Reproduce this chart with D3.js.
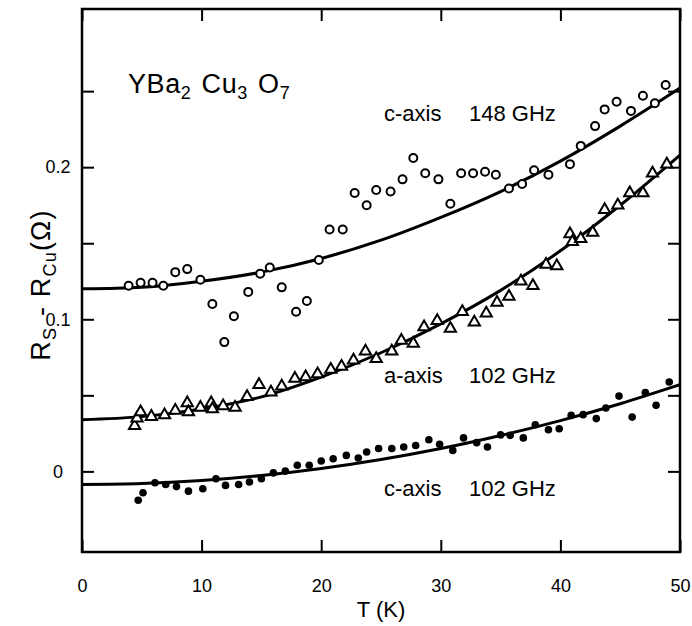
<!DOCTYPE html>
<html>
<head>
<meta charset="utf-8">
<title>YBa2Cu3O7 surface resistance</title>
<script src="https://cdn.jsdelivr.net/npm/d3@7"></script>
<style>
  body { margin: 0; background: #fff; }
  svg { font-family: "Liberation Sans", Arial, Helvetica, sans-serif; }
  .domain { display: none; }
</style>
</head>
<body>
<svg width="692" height="626" id="mainsvg"></svg>
<script>
// c-axis 148 GHz (open circles)
const c148T = [3.9, 4.9, 5.9, 6.8, 7.8, 8.8, 9.9, 10.9, 11.9, 12.7, 13.9, 14.9, 15.7, 16.7, 17.9, 18.8, 19.8,
               20.7, 21.8, 22.8, 23.8, 24.6, 25.8, 26.8, 27.7, 28.7, 29.8, 30.8, 31.7, 32.7, 33.7, 34.6,
               35.7, 36.8, 37.8, 39.0, 40.8, 41.7, 42.9, 43.7, 44.7, 45.9, 46.9, 47.9, 48.8]
const c148R = [0.122, 0.124, 0.124, 0.122, 0.131, 0.133, 0.126, 0.110, 0.085, 0.102, 0.118, 0.130, 0.134, 0.121, 0.105, 0.112, 0.139,
               0.159, 0.159, 0.183, 0.175, 0.185, 0.184, 0.192, 0.206, 0.196, 0.192, 0.176, 0.196, 0.196, 0.197, 0.195,
               0.186, 0.189, 0.198, 0.195, 0.202, 0.214, 0.227, 0.238, 0.243, 0.237, 0.247, 0.242, 0.254]

// a-axis 102 GHz (open triangles)
const a102T = [4.4, 4.6, 4.9, 5.8, 6.9, 7.8, 8.8, 8.9, 9.9, 10.8, 10.9, 11.8, 12.8, 13.8, 14.8, 15.8, 16.7, 17.8, 18.7, 19.7,
               20.8, 21.7, 22.7, 23.7, 24.6, 25.9, 26.7, 27.7, 28.6, 29.7, 30.8, 31.8, 32.8, 33.8, 34.7, 35.7, 36.7, 37.7,
               38.8, 39.7, 40.8, 41.0, 41.7, 42.7, 43.7, 44.8, 45.8, 46.9, 47.7, 48.9]
const a102R = [0.030, 0.035, 0.039, 0.036, 0.037, 0.040, 0.045, 0.039, 0.042, 0.045, 0.041, 0.043, 0.042, 0.049, 0.057, 0.052, 0.056, 0.061, 0.062, 0.064,
               0.067, 0.069, 0.073, 0.079, 0.074, 0.079, 0.086, 0.084, 0.095, 0.099, 0.094, 0.105, 0.098, 0.104, 0.111, 0.115, 0.125, 0.122,
               0.136, 0.135, 0.156, 0.151, 0.153, 0.157, 0.172, 0.175, 0.183, 0.183, 0.196, 0.202]

// c-axis 102 GHz (filled circles)
const c102T = [4.7, 5.1, 6.1, 7.0, 7.9, 8.9, 10.1, 11.2, 12.0, 13.1, 14.0, 15.0, 16.0, 17.0, 18.0, 19.0, 20.0, 21.0, 22.1, 23.1,
               23.8, 24.8, 25.9, 26.9, 27.9, 29.0, 29.9, 31.0, 31.9, 33.0, 33.9, 35.0, 35.8, 36.9, 37.9, 39.0, 39.9, 40.9,
               41.9, 43.0, 43.8, 44.9, 46.0, 47.1, 48.0, 49.1]
const c102R = [-0.019, -0.014, -0.0075, -0.0086, -0.010, -0.013, -0.0114, -0.0048, -0.0092, -0.0086, -0.007, -0.0048, -0.001, 0.0002, 0.004, 0.004, 0.0068, 0.0083, 0.0105, 0.0088,
               0.0127, 0.015, 0.015, 0.016, 0.017, 0.0208, 0.0178, 0.0138, 0.022, 0.0189, 0.016, 0.024, 0.0237, 0.022, 0.0307, 0.0274, 0.028, 0.0368,
               0.0373, 0.0347, 0.0417, 0.0495, 0.0357, 0.0518, 0.0434, 0.0588]

// fitted curves
const fitT    = [0, 5, 10, 15, 20, 25, 30, 35, 40, 45, 50]
const fitC148 = [0.120, 0.121, 0.125, 0.131, 0.140, 0.152, 0.167, 0.184, 0.204, 0.227, 0.252]
const fitA102 = [0.034, 0.036, 0.041, 0.049, 0.062, 0.078, 0.097, 0.119, 0.145, 0.175, 0.208]
const fitC102 = [-0.0086, -0.008, -0.006, -0.0027, 0.0019, 0.0078, 0.015, 0.0236, 0.0334, 0.0445, 0.057]

const xTicks = [0, 10, 20, 30, 40, 50]
const yTicks = [0, 0.05, 0.1, 0.15, 0.2, 0.25]
const yLabels = [0, 0.1, 0.2]

const svg = d3.select('#mainsvg')
const margin = {top: 9, right: 12, bottom: 74, left: 82}
const width = +svg.attr('width')
const height = +svg.attr('height')
const innerWidth = width - margin.left - margin.right
const innerHeight = height - margin.top - margin.bottom

const x = d3.scaleLinear().domain([0, 50]).range([0, innerWidth])
const y = d3.scaleLinear().domain([-0.053, 0.304]).range([innerHeight, 0])

const g = svg.append('g').attr('transform', `translate(${margin.left}, ${margin.top})`)

// axes, ticks pointing inward
const tickLen = 12
const styleAxis = sel => {
  sel.selectAll('.tick line').attr('stroke', '#000').attr('stroke-width', 2)
  sel.selectAll('.tick text').attr('fill', '#000').attr('font-size', 18)
  // drop the empty labels
  sel.selectAll('.tick text').filter(function () { return this.textContent === '' }).remove()
}
g.append('g').attr('transform', `translate(0, ${innerHeight})`)
  .call(d3.axisBottom(x).tickValues(xTicks).tickSizeInner(-tickLen).tickSizeOuter(0).tickFormat(d3.format('d')))
  .call(styleAxis)
  .call(a => a.selectAll('.tick text').attr('dy', null).attr('y', 40))
g.append('g')
  .call(d3.axisTop(x).tickValues(xTicks).tickSizeInner(-tickLen).tickSizeOuter(0).tickFormat(''))
  .call(styleAxis)
g.append('g')
  .call(d3.axisLeft(y).tickValues(yTicks).tickSizeInner(-tickLen).tickSizeOuter(0).tickPadding(24)
    .tickFormat(d => yLabels.some(v => Math.abs(v - d) < 1e-9) ? d3.format('~g')(d) : ''))
  .call(styleAxis)
  .call(a => a.selectAll('.tick text').attr('text-anchor', 'middle'))
g.append('g').attr('transform', `translate(${innerWidth}, 0)`)
  .call(d3.axisRight(y).tickValues(yTicks).tickSizeInner(-tickLen).tickSizeOuter(0).tickFormat(''))
  .call(styleAxis)

// frame
g.append('rect')
  .attr('width', innerWidth).attr('height', innerHeight)
  .attr('fill', 'none').attr('stroke', '#000').attr('stroke-width', 2.5)

// fit lines
const line = d3.line().x(d => x(d[0])).y(d => y(d[1])).curve(d3.curveCatmullRom)
;[fitC148, fitA102, fitC102].forEach(vals => {
  g.append('path')
    .datum(fitT.map((t, i) => [t, vals[i]]))
    .attr('d', line)
    .attr('fill', 'none').attr('stroke', '#000').attr('stroke-width', 3)
})

// open circles
g.append('g').selectAll('circle')
  .data(c148T.map((t, i) => [t, c148R[i]]))
  .join('circle')
  .attr('cx', d => x(d[0])).attr('cy', d => y(d[1])).attr('r', 4)
  .attr('fill', '#fff').attr('stroke', '#000').attr('stroke-width', 2)

// open triangles
const tri = d3.symbol().type(d3.symbolTriangle).size(55)
g.append('g').selectAll('path')
  .data(a102T.map((t, i) => [t, a102R[i]]))
  .join('path')
  .attr('d', tri)
  .attr('transform', d => `translate(${x(d[0])}, ${y(d[1])})`)
  .attr('fill', '#fff').attr('stroke', '#000').attr('stroke-width', 2)

// filled circles
g.append('g').selectAll('circle')
  .data(c102T.map((t, i) => [t, c102R[i]]))
  .join('circle')
  .attr('cx', d => x(d[0])).attr('cy', d => y(d[1])).attr('r', 3.8)
  .attr('fill', '#000')

// annotations
const title = svg.append('text').attr('x', 128).attr('y', 93).attr('font-size', 27).attr('letter-spacing', 0.6)
title.append('tspan').text('YBa')
title.append('tspan').attr('font-size', 18).attr('dy', 6).text('2')
title.append('tspan').attr('dy', -6).attr('dx', 2).text('\u00a0Cu')
title.append('tspan').attr('font-size', 18).attr('dy', 6).text('3')
title.append('tspan').attr('dy', -6).attr('dx', 2).text('\u00a0O')
title.append('tspan').attr('font-size', 18).attr('dy', 6).text('7')

const labels = [
  {axis: 'c-axis', freq: '148 GHz', base: 121},
  {axis: 'a-axis', freq: '102 GHz', base: 383},
  {axis: 'c-axis', freq: '102 GHz', base: 496}
]
labels.forEach(l => {
  svg.append('text').attr('x', 384).attr('y', l.base).attr('font-size', 22).text(l.axis)
  svg.append('text').attr('x', 469).attr('y', l.base).attr('font-size', 22).text(l.freq)
})

// axis titles
svg.append('text')
  .attr('x', margin.left + innerWidth / 2).attr('y', 617)
  .attr('text-anchor', 'middle').attr('font-size', 22)
  .text('T (K)')

const yt = svg.append('text')
  .attr('transform', 'translate(50, 285) rotate(-90)')
  .attr('text-anchor', 'middle').attr('font-size', 27).attr('letter-spacing', 1.2)
yt.append('tspan').text('R')
yt.append('tspan').attr('font-size', 18).attr('dy', 6).text('S')
yt.append('tspan').attr('dy', -6).attr('dx', 2).text('\u00a0-\u00a0R')
yt.append('tspan').attr('font-size', 18).attr('dy', 6).text('Cu')
yt.append('tspan').attr('dy', -6).text('(Ω)')
</script>
</body>
</html>
